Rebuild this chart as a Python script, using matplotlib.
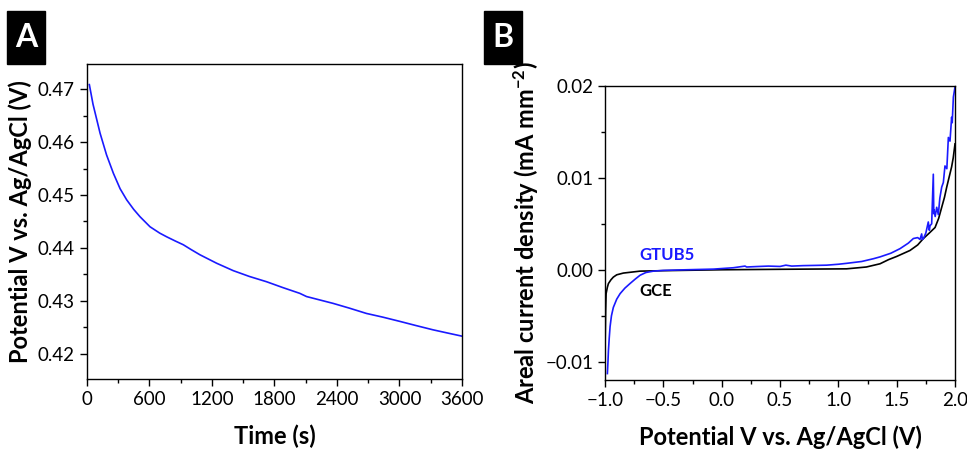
import matplotlib
matplotlib.use("Agg")
import matplotlib.pyplot as plt
from matplotlib.patches import Rectangle
from matplotlib.ticker import MultipleLocator

plt.rcParams['font.family'] = ['Lato', 'DejaVu Sans']
plt.rcParams['mathtext.default'] = 'regular'

# panel A: chronopotentiometry
time_s = [25, 60, 128, 190, 256, 320, 383, 450, 511, 607, 700, 767, 850, 926,
          1000, 1086, 1246, 1405, 1560, 1725, 1880, 2044, 2108, 2364, 2520,
          2683, 2840, 3003, 3160, 3322, 3460, 3600]
potential_v = [0.4709, 0.4672, 0.4617, 0.4576, 0.4541, 0.4512, 0.4491, 0.4473,
               0.4459, 0.4440, 0.4428, 0.4421, 0.4413, 0.4406, 0.4397, 0.4387,
               0.4371, 0.4357, 0.4346, 0.4336, 0.4325, 0.4314, 0.4308, 0.4295,
               0.4286, 0.4276, 0.4269, 0.4261, 0.4253, 0.4245, 0.4239, 0.4233]

# panel B: linear sweep voltammetry
gce_v = [-1.0, -0.995, -0.991, -0.98, -0.971, -0.95, -0.929, -0.9, -0.843,
         -0.7, -0.5, -0.357, 0.0, 0.5, 1.07, 1.24, 1.357, 1.43, 1.5, 1.614,
         1.68, 1.729, 1.78, 1.829, 1.86, 1.886, 1.91, 1.929, 1.95, 1.971,
         1.985, 2.0]
gce_j = [-0.0085, -0.0045, -0.0026, -0.0019, -0.0015, -0.0011, -0.0008,
         -0.00055, -0.00036, -0.00015, -0.0001, -0.00007, 0.0, 0.00005, 0.0001,
         0.0003, 0.00065, 0.0011, 0.00145, 0.0021, 0.0027, 0.0034, 0.0040,
         0.0046, 0.0056, 0.0068, 0.0079, 0.0090, 0.0101, 0.0112, 0.0122, 0.0137]

gtub_v = [-0.98, -0.975, -0.971, -0.964, -0.957, -0.945, -0.929, -0.9, -0.871,
          -0.83, -0.786, -0.74, -0.7, -0.65, -0.586, -0.5, -0.3, -0.071, 0.1,
          0.2, 0.214, 0.3, 0.4, 0.5, 0.55, 0.6, 0.7, 0.786, 0.9, 1.0, 1.071,
          1.2, 1.3, 1.357, 1.45, 1.529, 1.6, 1.643, 1.68, 1.70, 1.714, 1.72,
          1.729, 1.75, 1.771, 1.78, 1.786, 1.80, 1.814, 1.818, 1.82, 1.83,
          1.843, 1.857, 1.87, 1.886, 1.9, 1.914, 1.93, 1.943, 1.957, 1.971,
          1.976, 1.986, 1.995, 2.0]
gtub_j = [-0.0113, -0.0100, -0.0088, -0.0074, -0.0062, -0.0050, -0.0041,
          -0.0032, -0.0026, -0.0020, -0.0015, -0.0010, -0.0006, -0.0003,
          -0.00015, -0.00007, 0.0, 0.00007, 0.00022, 0.0004, 0.0003, 0.00035,
          0.0004, 0.00036, 0.0005, 0.0004, 0.00045, 0.00047, 0.0005, 0.0006,
          0.0007, 0.0009, 0.0012, 0.0014, 0.0018, 0.0023, 0.0029, 0.0034,
          0.0035, 0.0033, 0.0039, 0.0033, 0.0034, 0.0040, 0.0052, 0.0043,
          0.0048, 0.0050, 0.0104, 0.0061, 0.0065, 0.0058, 0.0068, 0.0060,
          0.0078, 0.0090, 0.0095, 0.0113, 0.0110, 0.0144, 0.0140, 0.0166,
          0.0160, 0.0188, 0.0195, 0.0199]

fig = plt.figure(figsize=(9.67, 4.51), dpi=100)

ax1 = fig.add_axes([0.0897, 0.1597, 0.3881, 0.6984])
ax2 = fig.add_axes([0.6257, 0.1574, 0.3619, 0.6519])

ax1.plot(time_s, potential_v, color='#1a1aff', lw=1.2)
ax1.set_xlim(0, 3600)
ax1.set_ylim(0.4152, 0.4748)
ax1.xaxis.set_minor_locator(MultipleLocator(300))
ax1.yaxis.set_minor_locator(MultipleLocator(0.005))
ax1.set_xticks([0, 600, 1200, 1800, 2400, 3000, 3600])
ax1.set_yticks([0.42, 0.43, 0.44, 0.45, 0.46, 0.47])
ax1.set_xlabel('Time (s)', fontsize=17, fontweight='bold', labelpad=12)
ax1.set_ylabel('Potential V vs. Ag/AgCl (V)', fontsize=17, fontweight='bold', labelpad=4)

ax2.plot(gce_v, gce_j, color='black', lw=1.2)
ax2.plot(gtub_v, gtub_j, color='#1a1aff', lw=1.2)
ax2.set_xlim(-1.0, 2.0)
ax2.set_ylim(-0.012, 0.02)
ax2.xaxis.set_minor_locator(MultipleLocator(0.25))
ax2.set_yticks([-0.01, 0.0, 0.01, 0.02])
ax2.set_yticklabels(['\u22120.01', '0.00', '0.01', '0.02'])
ax2.yaxis.set_minor_locator(MultipleLocator(0.005))
ax2.set_xticks([-1.0, -0.5, 0.0, 0.5, 1.0, 1.5, 2.0])
ax2.set_xticklabels(['\u22121.0', '\u22120.5', '0.0', '0.5', '1.0', '1.5', '2.0'])
ax2.set_xlabel('Potential V vs. Ag/AgCl (V)', fontsize=17, fontweight='bold', labelpad=12)
ax2.set_ylabel('Areal current density (mA mm$^{-2}$)', fontsize=17,
               fontweight='bold', labelpad=3)
ax2.text(-0.71, 0.0016, 'GTUB5', color='#1a1aff', fontsize=12, fontweight='bold', va='center')
ax2.text(-0.706, -0.0023, 'GCE', color='black', fontsize=12, fontweight='bold', va='center')

for ax in (ax1, ax2):
    ax.tick_params(which='major', direction='out', length=5, width=1, labelsize=13.5,
                   top=False, right=False)
    ax.tick_params(which='minor', direction='out', length=3, width=1,
                   top=False, right=False)
    for s in ax.spines.values():
        s.set_linewidth(1)

# panel letters
for x0, letter in ((7, 'A'), (484, 'B')):
    fig.patches.append(Rectangle((x0 / 967, 1 - 64 / 451), 38 / 967, 53 / 451,
                                 transform=fig.transFigure, color='black'))
    fig.text((x0 + 19) / 967, 1 - 37.5 / 451, letter, color='white', fontsize=23,
             fontweight='bold', ha='center', va='center')

fig.savefig('out.png', dpi=100)
